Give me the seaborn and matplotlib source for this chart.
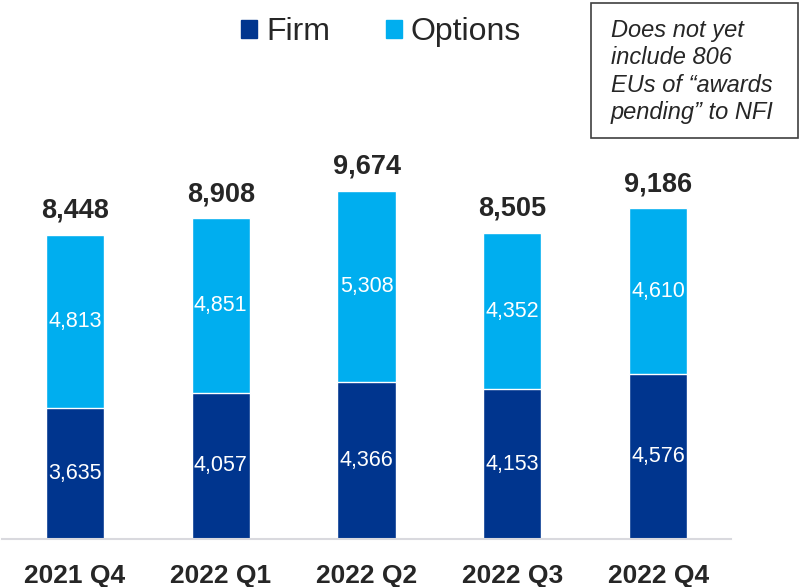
import pandas as pd
import matplotlib.pyplot as plt
import seaborn as sns
from matplotlib.patches import Patch, Rectangle

quarters = ["2021 Q4", "2022 Q1", "2022 Q2", "2022 Q3", "2022 Q4"]
firm = [3635, 4057, 4366, 4153, 4576]
options = [4813, 4851, 5308, 4352, 4610]

FIRM_COLOR = "#00358E"
OPT_COLOR = "#00AEEF"

sns.set_theme(style="white")
plt.rcParams["font.family"] = ["Liberation Sans", "DejaVu Sans"]

df = pd.DataFrame({"Quarter": quarters, "Firm": firm, "Options": options})
df["Total"] = df["Firm"] + df["Options"]

W, H = 805, 587
fig = plt.figure(figsize=(W / 100, H / 100), dpi=100)
ax = fig.add_axes([2 / W, 48 / H, 729 / W, 539 / H])

# full stack in light blue, firm part drawn over it
sns.barplot(data=df, x="Quarter", y="Total", color=OPT_COLOR, width=0.4,
            saturation=1, ax=ax)
sns.barplot(data=df, x="Quarter", y="Firm", color=FIRM_COLOR, width=0.4,
            saturation=1, ax=ax)

ax.set_xlim(-0.5, 4.5)
ax.set_ylim(0, 14970)
ax.set_xlabel("")
ax.set_ylabel("")
ax.set_yticks([])
for side in ["top", "right", "left"]:
    ax.spines[side].set_visible(False)
ax.spines["bottom"].set_color("#D9D9DE")
ax.spines["bottom"].set_linewidth(1.5)
ax.tick_params(axis="x", length=0, pad=18)
for lbl in ax.get_xticklabels():
    lbl.set_fontsize(19)
    lbl.set_fontweight("bold")
    lbl.set_color("#262626")

for i, row in df.iterrows():
    ax.text(i, row["Firm"] / 2, f"{row['Firm']:,}", ha="center", va="center",
            color="white", fontsize=15.5)
    ax.text(i, row["Firm"] + row["Options"] / 2, f"{row['Options']:,}",
            ha="center", va="center", color="white", fontsize=15.5)
    ax.annotate(f"{row['Total']:,}", (i, row["Total"]), xytext=(0, 8),
                textcoords="offset points", ha="center", va="bottom",
                fontsize=19.5, fontweight="bold", color="#262626")

handles = [Patch(color=FIRM_COLOR, label="Firm"),
           Patch(color=OPT_COLOR, label="Options")]
fig.legend(handles=handles, loc="center", bbox_to_anchor=(381 / W, 1 - 32 / H),
           ncol=2, frameon=False, fontsize=23, handlelength=0.5, handleheight=0.5,
           handletextpad=0.28, columnspacing=1.75, labelcolor="#262626")

# note box
fig.patches.append(Rectangle((591 / W, 1 - 138 / H), 207 / W, 135 / H,
                             transform=fig.transFigure, facecolor="white",
                             edgecolor="#404040", linewidth=1.2))
note_lines = ["Does not yet", "include 806", "EUs of \u201cawards",
              "pending\u201d to NFI"]
for k, line in enumerate(note_lines):
    fig.text(611 / W, 1 - (31 + 27 * k) / H, line, ha="left", va="center",
             fontsize=17, style="italic", color="#262626")

fig.savefig("out.png", dpi=100)
